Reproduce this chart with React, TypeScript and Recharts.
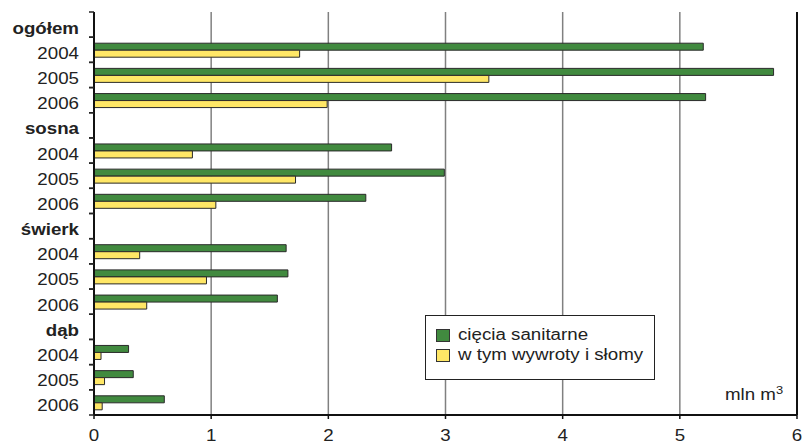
import React from "react";
import {
  BarChart,
  Bar,
  XAxis,
  YAxis,
  CartesianGrid,
  Legend,
  ReferenceLine,
} from "recharts";

// row labels (group headers + years)
const rowLabels = [
  "ogółem", "2004", "2005", "2006",
  "sosna", "2004", "2005", "2006",
  "świerk", "2004", "2005", "2006",
  "dąb", "2004", "2005", "2006",
];
const headerRows = ["ogółem", "sosna", "świerk", "dąb"];

// mln m3
const cieciaSanitarne = [
  null, 5.2, 5.8, 5.22,
  null, 2.54, 2.99, 2.32,
  null, 1.64, 1.655, 1.565,
  null, 0.295, 0.335, 0.6,
];
const wywrotyISlomy = [
  null, 1.755, 3.37, 1.99,
  null, 0.84, 1.72, 1.04,
  null, 0.39, 0.96, 0.45,
  null, 0.06, 0.09, 0.07,
];

const xTicks = [0, 1, 2, 3, 4, 5, 6];

const seriesNames = ["cięcia sanitarne", "w tym wywroty i słomy"];
const GREEN = "#418a3f";
const YELLOW = "#ffe766";
const FONT = "'Liberation Sans', Arial, sans-serif";
const STRETCH = 1.17;

const data = rowLabels.map((label, i) => ({
  id: `r${i}`,
  label,
  sanitarne: cieciaSanitarne[i],
  wywroty: wywrotyISlomy[i],
}));

const W = 802;
const H = 444;
const TOP = 12;
const BOTTOM = 29;

const YTick = (props: any) => {
  const { x, y, payload, index } = props;
  const i = payload?.index ?? index;
  const label = rowLabels[i];
  const bold = headerRows.includes(label);
  const half =
    payload?.offset || (H - TOP - BOTTOM) / rowLabels.length / 2;
  return (
    <g>
      <line x1={x + 10} x2={x + 15} y1={y - half} y2={y - half} stroke="#222" strokeWidth={1.5} />
      <line x1={x + 10} x2={x + 15} y1={y + half} y2={y + half} stroke="#222" strokeWidth={1.5} />
      <text
        transform={`translate(${x},${y}) scale(${STRETCH},1)`}
        x={0}
        y={0}
        dy={9}
        textAnchor="end"
        fontFamily={FONT}
        fontSize={16}
        fontWeight={bold ? 700 : 400}
        fill="#222"
      >
        {label}
      </text>
    </g>
  );
};

const XTick = (props: any) => {
  const { x, y, payload } = props;
  return (
    <text
      transform={`translate(${x},${y}) scale(${STRETCH},1)`}
      x={0}
      y={0}
      dy={20.5}
      textAnchor="middle"
      fontFamily={FONT}
      fontSize={16}
      fill="#222"
    >
      {payload.value}
    </text>
  );
};

const LegendBox = () => (
  <div
    style={{
      border: "1px solid #222",
      background: "#fff",
      width: 228,
      height: 54,
      boxSizing: "content-box",
      fontFamily: FONT,
      fontSize: 16,
      color: "#222",
      paddingTop: 9,
      boxShadow: "none",
    }}
  >
    {seriesNames.map((name, i) => (
      <div
        key={name}
        style={{ display: "flex", alignItems: "center", height: 20, marginLeft: 10 }}
      >
        <span
          style={{
            display: "inline-block",
            width: 12,
            height: 11,
            background: i === 0 ? GREEN : YELLOW,
            border: "1px solid #333",
            marginRight: 8,
          }}
        />
        <span
          style={{
            display: "inline-block",
            transform: `scaleX(${STRETCH})`,
            transformOrigin: "left center",
            whiteSpace: "nowrap",
            lineHeight: "20px",
          }}
        >
          {name}
        </span>
      </div>
    ))}
  </div>
);

export default function App() {
  return (
    <div style={{ position: "absolute", left: 0, top: 0, width: W, height: H, background: "#fff" }}>
      <BarChart
        width={W}
        height={H}
        data={data}
        layout="vertical"
        margin={{ top: TOP, right: 5, bottom: 0, left: 0 }}
        barSize={7}
        barGap={0}
      >
        <CartesianGrid horizontal={false} stroke="#808080" strokeWidth={1.5} />
        <XAxis
          type="number"
          domain={[0, 6]}
          ticks={xTicks}
          interval={0}
          height={BOTTOM}
          axisLine={{ stroke: "#111", strokeWidth: 2 }}
          tickLine={{ stroke: "#111", strokeWidth: 1.5 }}
          tickSize={4}
          tickMargin={2}
          tick={<XTick />}
        />
        <XAxis
          xAxisId="top"
          orientation="top"
          type="number"
          domain={[0, 6]}
          height={0}
          tick={false}
          tickLine={false}
          axisLine={{ stroke: "#222", strokeWidth: 1 }}
        />
        <YAxis
          type="category"
          dataKey="id"
          width={94}
          interval={0}
          axisLine={{ stroke: "#111", strokeWidth: 2 }}
          tickLine={false}
          tickSize={5}
          tickMargin={10}
          tick={<YTick />}
        />
        <ReferenceLine x={6} stroke="#111" strokeWidth={2} />
        <Bar
          dataKey="sanitarne"
          name={seriesNames[0]}
          fill={GREEN}
          stroke="#2a2a2a"
          strokeWidth={1}
          isAnimationActive={false}
        />
        <Bar
          dataKey="wywroty"
          name={seriesNames[1]}
          fill={YELLOW}
          stroke="#2a2a2a"
          strokeWidth={1}
          isAnimationActive={false}
        />
        <Legend
          layout="vertical"
          align="center"
          verticalAlign="middle"
          content={<LegendBox />}
          wrapperStyle={{ left: 425, top: 315, width: 230, height: 64 }}
        />
      </BarChart>
      <div
        style={{
          position: "absolute",
          left: 725,
          top: 384,
          fontFamily: FONT,
          fontSize: 16,
          color: "#222",
          transform: `scaleX(${STRETCH})`,
          transformOrigin: "left top",
          whiteSpace: "nowrap",
        }}
      >
        mln m<sup style={{ fontSize: 11 }}>3</sup>
      </div>
    </div>
  );
}
